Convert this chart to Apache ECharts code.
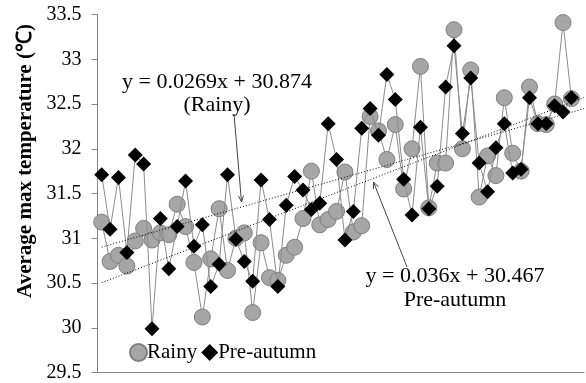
<!DOCTYPE html>
<html>
<head>
<meta charset="utf-8">
<script src="https://cdn.jsdelivr.net/npm/echarts@6/dist/echarts.min.js"></script>
<style>
  html, body { margin: 0; padding: 0; background: #fff; }
  #chart { width: 586px; height: 383px; }
</style>
</head>
<body>
<div id="chart"></div>
<script>
  // average max temperature, one value per year
  var rainy = [31.18, 30.74, 30.81, 30.69, 30.97, 31.11, 30.98, 31.06, 31.04, 31.38,
               31.13, 30.73, 30.12, 30.77, 31.33, 30.64, 31.00, 31.06, 30.17, 30.95,
               30.56, 30.53, 30.81, 30.90, 31.22, 31.75, 31.15, 31.21, 31.30, 31.74,
               31.07, 31.14, 32.36, 32.20, 31.88, 32.27, 31.55, 32.00, 32.92, 31.34,
               31.84, 31.84, 33.33, 32.00, 32.88, 31.46, 31.92, 31.70, 32.57, 31.95,
               31.75, 32.69, 32.28, 32.27, 32.50, 33.41, 32.56];
  var preAutumn = [31.71, 31.10, 31.68, 30.84, 31.93, 31.83, 29.99, 31.22, 30.66, 31.13,
                   31.64, 30.91, 31.15, 30.46, 30.71, 31.71, 30.99, 30.74, 30.52, 31.65,
                   31.21, 30.46, 31.37, 31.69, 31.54, 31.32, 31.39, 32.28, 31.88, 30.98,
                   31.30, 32.23, 32.45, 32.15, 32.83, 32.55, 31.66, 31.26, 32.24, 31.33,
                   31.58, 32.69, 33.15, 32.17, 32.79, 31.84, 31.52, 32.01, 32.28, 31.73,
                   31.77, 32.57, 32.28, 32.28, 32.48, 32.41, 32.57];
  var categoryCount = 58;
  var yTicks = [29.5, 30, 30.5, 31, 31.5, 32, 32.5, 33, 33.5];
  // trend lines as printed on the chart
  var rainyFit = { slope: 0.0269, intercept: 30.874 };
  var preFit = { slope: 0.036, intercept: 30.467 };

  var categories = [];
  for (var i = 1; i <= categoryCount; i++) categories.push(String(i));

  function fitLine(fit) {
    var x0 = 1, x1 = categoryCount + 0.5;
    return [[x0, fit.slope * x0 + fit.intercept], [x1, fit.slope * x1 + fit.intercept]];
  }

  var serif = '"Liberation Serif", "Times New Roman", serif';
  var myChart = echarts.init(document.getElementById('chart'));

  var option = {
    backgroundColor: '#fff',
    animation: false,
    grid: { left: 97.5, right: 2, top: 14.5, bottom: 10.5 },
    legend: {
      left: 124, top: 337,
      itemWidth: 17, itemHeight: 17, itemGap: 4,
      textStyle: { fontFamily: serif, fontSize: 21, color: '#000', padding: [0, 0, 0, -5] },
      data: [
        { name: 'Rainy', icon: 'circle' },
        { name: 'Pre-autumn', icon: 'diamond' }
      ]
    },
    xAxis: [
      {
        type: 'category',
        data: categories,
        boundaryGap: true,
        axisLine: { lineStyle: { color: '#868686', width: 1 } },
        axisTick: { inside: true, length: 5, interval: 0, lineStyle: { color: '#b0b0b0' } },
        axisLabel: { show: false },
        splitLine: { show: false }
      },
      {
        type: 'value',
        min: 0.5, max: categoryCount + 0.5,
        show: false
      }
    ],
    yAxis: {
      type: 'value',
      min: yTicks[0], max: yTicks[yTicks.length - 1], interval: 0.5,
      axisLine: { show: true, lineStyle: { color: '#868686' } },
      axisTick: { show: true, length: 6, lineStyle: { color: '#868686' } },
      axisLabel: { fontFamily: serif, fontSize: 20, color: '#000', margin: 16 },
      splitLine: { show: false }
    },
    graphic: [
      {
        type: 'text', x: 26, y: 161, rotation: Math.PI / 2,
        style: { text: 'Average max temperature (℃)', font: 'bold 21px ' + serif,
                 fill: '#000', textAlign: 'center', textVerticalAlign: 'middle' }
      },
      {
        type: 'text', x: 217, y: 82,
        style: { text: 'y = 0.0269x + 30.874', font: '22px ' + serif, fill: '#000',
                 textAlign: 'center', textVerticalAlign: 'middle' }
      },
      {
        type: 'text', x: 217, y: 105,
        style: { text: '(Rainy)', font: '22px ' + serif, fill: '#000',
                 textAlign: 'center', textVerticalAlign: 'middle' }
      },
      {
        type: 'text', x: 455, y: 276,
        style: { text: 'y = 0.036x + 30.467', font: '22px ' + serif, fill: '#000',
                 textAlign: 'center', textVerticalAlign: 'middle' }
      },
      {
        type: 'text', x: 455, y: 300,
        style: { text: 'Pre-autumn', font: '22px ' + serif, fill: '#000',
                 textAlign: 'center', textVerticalAlign: 'middle' }
      },
      // arrow to the rainy trend line
      { type: 'line', shape: { x1: 234, y1: 114, x2: 241.5, y2: 202 },
        style: { stroke: '#444', lineWidth: 1 } },
      { type: 'polyline', shape: { points: [[238.5, 196], [241.5, 202], [243.5, 195.5]] },
        style: { stroke: '#444', lineWidth: 1, fill: null } },
      // arrow to the pre-autumn trend line
      { type: 'line', shape: { x1: 407, y1: 267, x2: 373.5, y2: 182 },
        style: { stroke: '#444', lineWidth: 1 } },
      { type: 'polyline', shape: { points: [[373.5, 189], [373.5, 182], [378.5, 187]] },
        style: { stroke: '#444', lineWidth: 1, fill: null } }
    ],
    series: [
      {
        name: 'Rainy',
        type: 'line',
        data: rainy,
        symbol: 'circle',
        symbolSize: 16,
        showSymbol: true,
        showAllSymbol: true,
        z: 2,
        lineStyle: { color: '#8c8c8c', width: 1 },
        itemStyle: { color: '#a6a6a6', borderColor: '#7f7f7f', borderWidth: 1 }
      },
      {
        name: 'Pre-autumn',
        type: 'line',
        data: preAutumn,
        symbol: 'diamond',
        symbolSize: 15,
        showSymbol: true,
        showAllSymbol: true,
        z: 3,
        lineStyle: { color: '#8c8c8c', width: 1 },
        itemStyle: { color: '#000' }
      },
      {
        name: 'Rainy trend',
        type: 'line',
        xAxisIndex: 1,
        data: fitLine(rainyFit),
        symbol: 'none',
        silent: true,
        z: 4,
        lineStyle: { color: '#000', width: 1, type: [1, 2] }
      },
      {
        name: 'Pre-autumn trend',
        type: 'line',
        xAxisIndex: 1,
        data: fitLine(preFit),
        symbol: 'none',
        silent: true,
        z: 4,
        lineStyle: { color: '#000', width: 1, type: [1, 2] }
      }
    ]
  };

  myChart.setOption(option);
  window.onresize = myChart.resize;
</script>
</body>
</html>
